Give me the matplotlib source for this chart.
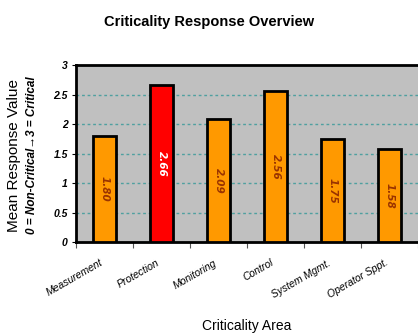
import matplotlib
matplotlib.use('Agg')
import matplotlib.pyplot as plt
import numpy as np

areas = ['Measurement', 'Protection', 'Monitoring', 'Control', 'System Mgmt.', 'Operator Sppt.']
means = [1.80, 2.66, 2.09, 2.56, 1.75, 1.58]
colors = ['#FF9900', '#FF0000', '#FF9900', '#FF9900', '#FF9900', '#FF9900']
yticks = [0, 0.5, 1, 1.5, 2, 2.5, 3]

plt.rcParams['font.family'] = ['Liberation Sans', 'DejaVu Sans']

fig = plt.figure(figsize=(4.18, 3.34), dpi=100)
ax = fig.add_axes([0.182, 0.274, 0.818, 0.531])
ax.set_facecolor('#C0C0C0')

x = np.arange(len(areas))
ax.bar(x, means, width=0.41, color=colors, edgecolor='black', linewidth=2, zorder=3)

for xi, v, c in zip(x, means, colors):
    txt_color = 'white' if c == '#FF0000' else '#993300'
    ax.text(xi, v / 2, f'{v:.2f}', rotation=270, ha='center', va='center',
            fontsize=7.5, fontweight='bold', fontstyle='italic', color=txt_color,
            family='DejaVu Sans', zorder=4)

ax.set_xlim(-0.5, len(areas) - 0.5)
ax.set_ylim(0, 3)
ax.set_yticks(yticks)
ax.set_yticklabels([f'{t:g}' for t in yticks], fontsize=7.5, fontweight='bold', fontstyle='italic')
ax.yaxis.grid(True, color='#4FA0A0', linestyle=(0, (2, 2)), linewidth=1, zorder=1)

# ticks between categories, labels under the bars
ax.set_xticks(np.arange(len(areas) + 1) - 0.5)
ax.set_xticklabels([])
ax.set_xticks(x, minor=True)
ax.set_xticklabels(areas, minor=True, rotation=30, ha='right', rotation_mode='anchor',
                   fontsize=7.5, fontstyle='italic')
ax.tick_params(axis='x', which='minor', length=0, pad=11)
ax.tick_params(axis='x', which='major', length=4, color='#555555')
ax.tick_params(axis='y', length=3, pad=3)
offset = matplotlib.transforms.ScaledTranslation(-5 / 100, 0, fig.dpi_scale_trans)
for lbl in ax.get_xticklabels(minor=True):
    lbl.set_transform(lbl.get_transform() + offset)

for side in ['left', 'top', 'bottom']:
    ax.spines[side].set_linewidth(2)
ax.spines['right'].set_visible(False)

fig.text(0.5, 0.935, 'Criticality Response Overview', ha='center', va='center',
         fontsize=10.5, fontweight='bold', family=['Liberation Sans Narrow', 'Liberation Sans', 'DejaVu Sans'])
fig.text(0.59, 0.025, 'Criticality Area', ha='center', va='center',
         fontsize=10, family=['Liberation Sans Narrow', 'Liberation Sans', 'DejaVu Sans'])
fig.text(0.033, 0.535, 'Mean Response Value', rotation=90, ha='center', va='center', fontsize=11)
fig.text(0.076, 0.535, '0 = Non-Critical\u21923 = Critical', rotation=90, ha='center', va='center',
         fontsize=8.5, fontweight='bold', fontstyle='italic')

fig.savefig('out.png', dpi=100)
